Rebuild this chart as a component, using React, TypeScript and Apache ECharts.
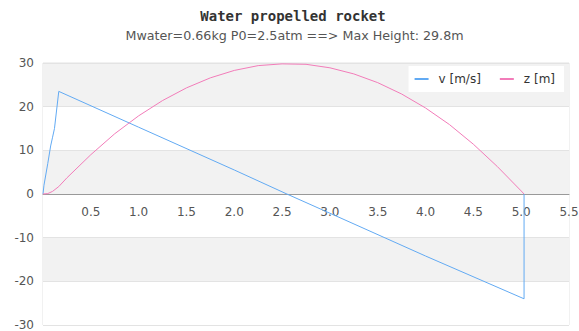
import React, { useEffect, useRef } from "react";
import * as echarts from "echarts";

const titleText = "Water propelled rocket";
const subtitleText = "Mwater=0.66kg P0=2.5atm ==> Max Height: 29.8m";
const seriesNames = ["v [m/s]", "z [m]"];

// velocity (time in s, value in m/s)
const vTime = [0, 0.01, 0.05, 0.08, 0.1, 0.12, 0.165, 1.0, 2.0, 2.55, 3.0, 4.0, 5.03, 5.03];
const vValues = [0, 2, 7, 11, 13, 15, 23.5, 15.3, 5.5, 0, -4.4, -14.2, -24, 0];

// height (time in s, value in m)
const zTime = [0, 0.05, 0.1, 0.165, 0.25, 0.5, 0.75, 1.0, 1.25, 1.5, 1.75, 2.0, 2.25, 2.5, 2.75, 3.0, 3.25, 3.5, 3.75, 4.0, 4.25, 4.5, 4.75, 5.0, 5.03];
const zValues = [0, 0.1, 0.6, 1.7, 3.7, 9.0, 13.8, 17.9, 21.4, 24.3, 26.6, 28.3, 29.4, 29.8, 29.7, 28.9, 27.5, 25.5, 22.9, 19.7, 15.9, 11.4, 6.3, 0.7, 0];

const xMin = 0;
const xMax = 5.5;
const xInterval = 0.5;
const yMin = -30;
const yMax = 30;
const yInterval = 10;

const colors = ["#62aaf3", "#f27cb9"];

export default function App() {
  const ref = useRef<HTMLDivElement>(null);
  useEffect(() => {
    document.body.style.margin = "0";
    const chart = echarts.init(ref.current!, undefined, { renderer: "svg" });
    const vData = vTime.map((t, i) => [t, vValues[i]]);
    const zData = zTime.map((t, i) => [t, zValues[i]]);
    const gridTop = 63;
    const gridBottom = 6;
    const gridHeight = 331 - gridTop - gridBottom;
    const zeroOffset = (gridHeight * (0 - yMin)) / (yMax - yMin);
    chart.setOption({
      animation: false,
      color: colors,
      graphic: [
        {
          type: "text",
          x: 293,
          y: 16,
          style: {
            text: titleText,
            fontFamily: "DejaVu Sans Mono",
            fontWeight: "bold",
            fontSize: 14,
            fill: "#333",
            textAlign: "center",
            textVerticalAlign: "middle",
          },
        },
        {
          type: "text",
          x: 294.5,
          y: 35,
          style: {
            text: subtitleText,
            fontFamily: "DejaVu Sans",
            fontSize: 12.7,
            fill: "#555",
            textAlign: "center",
            textVerticalAlign: "middle",
          },
        },
      ],
      legend: {
        data: seriesNames.map((n) => ({ name: n, icon: "rect" })),
        right: 15,
        top: 66,
        backgroundColor: "#fff",
        padding: [7, 9, 7, 6],
        itemWidth: 14,
        itemHeight: 2,
        itemGap: 19,
        textStyle: {
          fontFamily: "DejaVu Sans",
          fontSize: 12,
          color: "#333",
          padding: [0, 0, 0, 5],
        },
      },
      grid: {
        left: 43,
        right: 10,
        top: gridTop,
        bottom: gridBottom,
        outerBoundsMode: "none",
        containLabel: false,
        show: true,
        borderColor: "#e3e3e3",
        borderWidth: 1,
        backgroundColor: "transparent",
      },
      xAxis: {
        type: "value",
        min: xMin,
        max: xMax,
        interval: xInterval,
        position: "bottom",
        offset: -zeroOffset,
        axisLine: { onZero: false, lineStyle: { color: "#999", width: 1 } },
        axisTick: { show: false },
        splitLine: { show: false },
        axisLabel: {
          margin: 12,
          color: "#555",
          fontFamily: "DejaVu Sans",
          fontSize: 12,
          formatter: (v: number) => (v === 0 ? "" : v.toFixed(1)),
        },
      },
      yAxis: {
        type: "value",
        min: yMin,
        max: yMax,
        interval: yInterval,
        axisLine: { show: false },
        axisTick: { show: false },
        axisLabel: {
          margin: 9,
          color: "#555",
          fontFamily: "DejaVu Sans",
          fontSize: 12,
        },
        splitLine: { lineStyle: { color: "#e3e3e3" } },
        splitArea: { show: true, areaStyle: { color: ["#ffffff", "#f2f2f2"] } },
      },
      series: [
        {
          name: seriesNames[0],
          type: "line",
          data: vData,
          showSymbol: false,
          lineStyle: { width: 1 },
        },
        {
          name: seriesNames[1],
          type: "line",
          data: zData,
          showSymbol: false,
          lineStyle: { width: 1 },
        },
      ],
    });
    return () => chart.dispose();
  }, []);
  return <div ref={ref} style={{ width: 579, height: 331 }} />;
}
